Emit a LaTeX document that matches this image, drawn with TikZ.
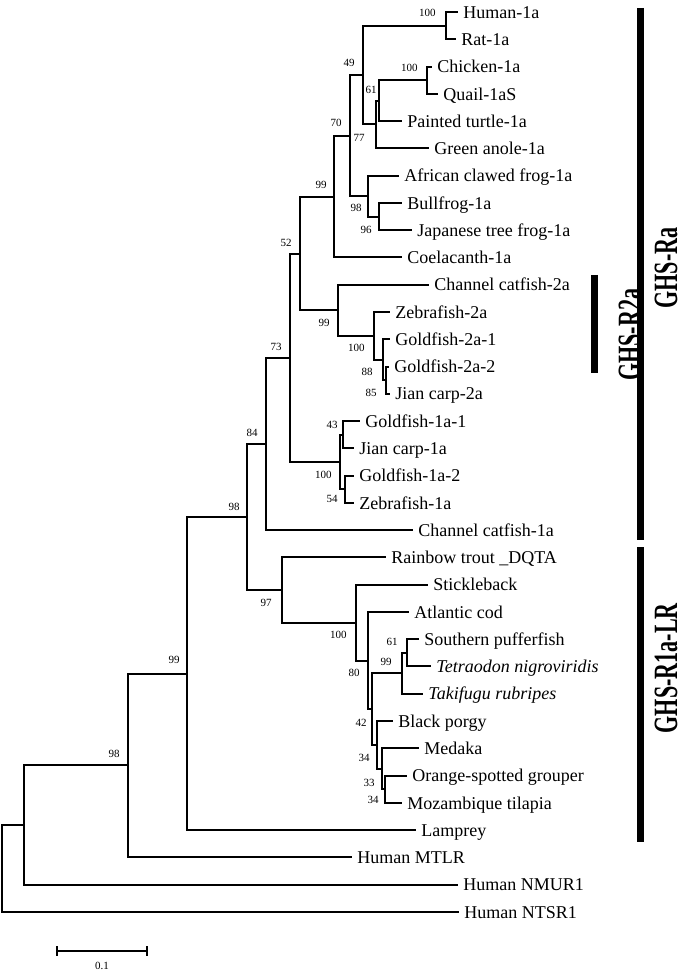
\documentclass[tikz,border=0pt]{standalone}
\usepackage{fontspec}
\setmainfont{Liberation Serif}

\tikzset{
  branch/.style={line width=1pt, line cap=rect},
  leaf/.style={anchor=west, inner xsep=3pt, inner ysep=0pt, text height=0.62em, text depth=0pt, font=\fontsize{9}{10}\selectfont},
  boot/.style={anchor=east, inner sep=0pt, font=\fontsize{5.5}{6}\selectfont},
  cladebar/.style={line width=3.5pt},
  cladename/.style={rotate=90, inner sep=0pt, font=\fontsize{17}{17}\selectfont\bfseries},
}

\begin{document}
\begin{tikzpicture}[x=0.5pt, y=-13.635pt]
\useasboundingbox (0,-0.44) rectangle (687,35.24);

% taxa, one row each
\foreach \nm/\tx/\r/\lab in {
  l0/457/0/Human-1a, l1/455/1/Rat-1a, l2/431/2/Chicken-1a, l3/437/3/Quail-1aS,
  l4/401/4/Painted turtle-1a, l5/428/5/Green anole-1a, l6/398/6/African clawed frog-1a,
  l7/401/7/Bullfrog-1a, l8/411/8/Japanese tree frog-1a, l9/401/9/Coelacanth-1a,
  l10/428/10/Channel catfish-2a, l11/389/11/Zebrafish-2a, l12/389/12/Goldfish-2a-1,
  l13/388/13/Goldfish-2a-2, l14/389/14/Jian carp-2a, l15/359/15/Goldfish-1a-1,
  l16/353/16/Jian carp-1a, l17/353/17/Goldfish-1a-2, l18/353/18/Zebrafish-1a,
  l19/412/19/Channel catfish-1a, l20/385/20/Rainbow trout \_DQTA, l21/427/21/Stickleback,
  l22/408/22/Atlantic cod, l23/418/23/Southern pufferfish,
  l24/430/24/\textit{Tetraodon nigroviridis}, l25/422/25/\textit{Takifugu rubripes},
  l26/392/26/Black porgy, l27/418/27/Medaka, l28/406/28/Orange-spotted grouper,
  l29/401/29/Mozambique tilapia, l30/415/30/Lamprey, l31/351/31/Human MTLR,
  l32/457/32/Human NMUR1, l33/458/33/Human NTSR1}
  \node[leaf] (\nm) at (\tx,\r) {\lab};

% internal nodes
\foreach \nm/\x/\r in {
  h100/446/0.5, c100/427/2.5, n61/379/3.25, n77/376/4.125, n49/363/2.31,
  n96/379/7.5, n98f/368/6.75, n70/350/4.53, n99a/334/6.77,
  n85/386/13.5, n88/383/12.75, n100z/374/11.88, n99b/338/10.94, n52/300/8.86,
  n43/343/15.5, n54/345/17.5, n100g/340/16.5, n73/290/12.68, n84/266/15.84,
  n61p/407/23.5, n99p/402/24.25, n34w/385/28.5, n33/382/27.75, n34y/377/26.88,
  n42/372/25.57, n80/368/23.79, n100s/356/22.40, n97/282/21.2, n98b/247/18.52,
  n99/187/24.26, n98/128/27.63, nN/24/29.82, root/2/31.41}
  \coordinate (\nm) at (\x,\r);

\foreach \p/\c in {h100/l0, h100/l1, c100/l2, c100/l3, n61/c100, n61/l4, n77/n61, n77/l5,
  n49/h100, n49/n77, n96/l7, n96/l8, n98f/l6, n98f/n96, n70/n49, n70/n98f, n99a/n70, n99a/l9,
  n85/l13, n85/l14, n88/l12, n88/n85, n100z/l11, n100z/n88, n99b/l10, n99b/n100z,
  n52/n99a, n52/n99b, n43/l15, n43/l16, n54/l17, n54/l18, n100g/n43, n100g/n54,
  n73/n52, n73/n100g, n84/n73, n84/l19, n61p/l23, n61p/l24, n99p/n61p, n99p/l25,
  n34w/l28, n34w/l29, n33/l27, n33/n34w, n34y/l26, n34y/n33, n42/n99p, n42/n34y,
  n80/l22, n80/n42, n100s/l21, n100s/n80, n97/l20, n97/n100s, n98b/n84, n98b/n97,
  n99/n98b, n99/l30, n98/n99, n98/l31, nN/n98, nN/l32, root/nN, root/l33}
  \draw[branch] (\p) |- (\c);

% bootstrap values
\foreach \nm/\x/\r/\v in {
  bh100/436/0.04/100, b49/355/1.87/49, bc100/418/2.05/100, b61/377/2.86/61,
  b77/365/4.62/77, b70/342/4.07/70, b98f/362/7.19/98, b96/372/8.0/96,
  b99a/327/6.34/99, b52/292/8.47/52, b99b/330/11.40/99, b100z/365/12.32/100,
  b88/373/13.20/88, b85/377/13.97/85, b43/338/15.14/43, b100g/332/16.98/100,
  b54/338/17.86/54, b73/282/12.28/73, b84/258/15.44/84, b98b/240/18.15/98,
  b97/272/21.67/97, b100s/347/22.85/100, b80/360/24.24/80, b61p/398/23.10/61,
  b99p/392/23.84/99, b42/367/26.07/42, b34y/370/27.36/34, b33/375/28.27/33,
  b34w/379/28.9/34, b99/180/23.76/99, b98/120/27.21/98}
  \node[boot] (\nm) at (\x,\r) {\v};

% clades
\draw[cladebar] (640.5,-0.15) -- (640.5,19.36);
\node[cladename] (ra) at (666,9.39) {\scalebox{0.65}[1]{GHS-Ra}};
\draw[cladebar] (594.5,9.64) -- (594.5,13.24);
\node[cladename] (r2a) at (630,11.84) {\scalebox{0.65}[1]{GHS-R2a}};
\draw[cladebar] (640.5,19.62) -- (640.5,30.44);
\node[cladename] (r1a) at (666,24.06) {\scalebox{0.65}[1]{GHS-R1a-LR}};

% scale bar
\coordinate (sb1) at (57,34.43);
\coordinate (sb2) at (147,34.43);
\draw[branch] (sb1) -- (sb2);
\draw[branch] ([yshift=2pt]sb1) -- ([yshift=-2pt]sb1);
\draw[branch] ([yshift=2pt]sb2) -- ([yshift=-2pt]sb2);
\node[boot, anchor=center] (sbl) at (102,34.98) {0.1};
\end{tikzpicture}
\end{document}
